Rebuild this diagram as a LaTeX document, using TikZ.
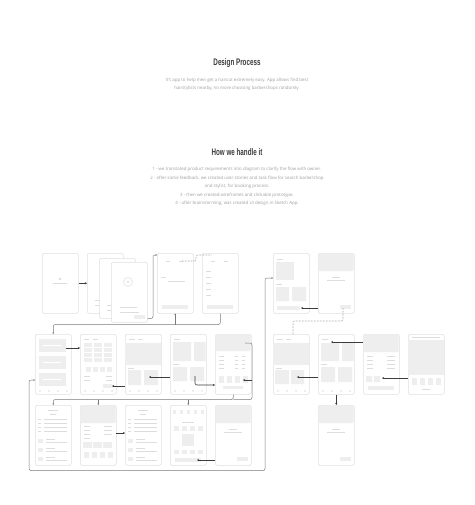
\documentclass[tikz,border=0pt]{standalone}
\usepackage{fontspec}
\setmainfont{Open Sans}
\newfontfamily\headfont[FakeStretch=0.66]{Liberation Sans}
\usetikzlibrary{calc,arrows.meta}
\definecolor{scrline}{HTML}{E0E0E0}
\definecolor{blockc}{HTML}{EEEEEE}
\definecolor{textc}{HTML}{DDDDDD}
\definecolor{linkc}{HTML}{7A7A7A}
\definecolor{darkc}{HTML}{3C3C3C}
\definecolor{bodyc}{HTML}{A0A0A0}

\begin{document}
\begin{tikzpicture}[x=1pt,y=-1pt]
\tikzset{
  scr/.style={draw=scrline, fill=white, line width=0.5pt, rounded corners=1.5pt,
    minimum width=36pt, minimum height=60pt, inner sep=0pt, anchor=north west},
  blk/.style={fill=blockc},
  tl/.style={draw=textc, line width=0.5pt},
  hdr/.style={fill=blockc, rounded corners=1.2pt},
  lnk/.style={draw=linkc, line width=0.5pt, rounded corners=2pt},
  lnkto/.style={lnk, -{Stealth[length=1.6pt,width=1.8pt]}},
  dotlnk/.style={lnk, densely dotted, line width=0.6pt},
  con/.style={draw=darkc, line width=0.6pt, rounded corners=2pt, -{Stealth[length=2pt,width=2pt]}},
  headline/.style={font=\headfont\bfseries\fontsize{9.5}{11}\selectfont, text=darkc},
  bodytext/.style={font=\fontsize{4.4}{8.6}\selectfont, text=bodyc, align=center}
}
\useasboundingbox (0,0) rectangle (474,505);
\fill[white] (0,0) rectangle (474,505);

\node[headline] (design) at (237,63) {Design Process};
\node[bodytext] (about) at (237,84.5) {It's app to help men get a haircut extremely easy. App allows find best\\hairstylists nearby, no more choosing barbershops randomly.};
\node[headline] (handle) at (237,152) {How we handle it};
\node[bodytext] (steps) at (237,186.5) {1 - we translated product requirements into diagram to clarify the flow with owner.\\2 - after some feedback, we created user stories and task flow for search barbershop\\and stylist, for booking process.\\3 - then we created wireframes and clickable prototype.\\4 - after brainstorming, was created UI design in Sketch App.};

% first row
\node[scr] (splash) at (42,253) {};
\begin{scope}[shift={(splash.north west)}]
\fill[textc] (18,26) circle (1.3);
\draw[tl] (11,30.5) -- (25,30.5);
\end{scope}
\node[scr] (tour1) at (87,253) {};
\begin{scope}[shift={(tour1.north west)}]
\draw[tl] (8,47) -- (13,47) (8,52) -- (12,52);
\end{scope}
\node[scr] (tour2) at (99,258) {};
\begin{scope}[shift={(tour2.north west)}]
\draw[tl] (8,47) -- (13,47) (8,52) -- (12,52);
\end{scope}
\node[scr] (tour3) at (111,262) {};
\begin{scope}[shift={(tour3.north west)}]
\draw[blockc, line width=1.2pt] (17,20) circle (4.5);
\fill[textc] (17,20) circle (1.2);
\draw[tl] (9,45) -- (26,45) (9,50) -- (28,50);
\fill[blk] (23,53) rectangle (34,57);
\end{scope}
\node[scr] (signin) at (157,253) {};
\begin{scope}[shift={(signin.north west)}]
\draw[tl] (9,8) -- (13,8) (22,8) -- (26,8);
\draw[tl] (4,24) -- (9,24) (11,28) -- (28,28);
\fill[blk] (5,52) rectangle (31,56);
\end{scope}
\node[scr] (signup) at (202,253) {};
\begin{scope}[shift={(signup.north west)}]
\draw[tl] (9,8) -- (13,8) (22,8) -- (26,8);
\foreach \r in {18,24,30,36,42} \draw[tl] (4,\r) -- (9,\r);
\fill[blk] (5,52) rectangle (31,56);
\end{scope}
\node[scr] (feed) at (273,253) {};
\begin{scope}[shift={(feed.north west)}]
\draw[tl] (4,6) -- (10,6);
\fill[blk] (3,9) rectangle (21,27);
\draw[tl] (3,31) -- (9,31);
\fill[blk] (3,34) rectangle (16,48) (19,34) rectangle (33,48);
\fill[blk] (4,53) rectangle (27,57);
\end{scope}
\node[scr] (welcome) at (318,253) {};
\begin{scope}[shift={(welcome.north west)}]
\fill[hdr] (0.3,0.3) rectangle (35.7,18);
\draw[tl] (14,24) -- (22,24) (9,27) -- (27,27);
\fill[blk] (22,52) rectangle (33,56);
\end{scope}

% second row
\node[scr] (home) at (35,334) {};
\begin{scope}[shift={(home.north west)}]
\foreach \t in {5,22,39} {
  \fill[blk] (4,\t) rectangle (31,\t+13);
  \draw[white, line width=0.6pt] (8,\t+6.5) -- (26,\t+6.5);
}
\foreach \i in {5,14,23,32} \fill[textc] (\i,57) circle (0.8);
\end{scope}
\node[scr] (catalog) at (80,334) {};
\begin{scope}[shift={(catalog.north west)}]
\draw[tl] (4,5) -- (9,5) (13,5) -- (18,5);
\foreach \r in {9,14,19,24} \foreach \c in {4,14,24} \fill[blk] (\c,\r) rectangle (\c+8,\r+3.5);
\foreach \c in {6,13,20,27} \fill[blk] (\c,33) rectangle (\c+5,38);
\draw[tl] (4,42) -- (10,42) (26,42) -- (32,42) (4,46) -- (10,46) (26,46) -- (32,46);
\fill[blk] (23,50) rectangle (32,54);
\foreach \i in {5,14,23,32} \fill[textc] (\i,57) circle (0.8);
\end{scope}
\node[scr] (salon) at (125,334) {};
\begin{scope}[shift={(salon.north west)}]
\draw[tl] (4,5) -- (10,5) (13,5) -- (18,5);
\fill[blk] (0.3,9) rectangle (35.7,31);
\draw[tl] (3,34) -- (9,34);
\fill[blk] (3,36) rectangle (16,51) (19,36) rectangle (33,51);
\foreach \i in {5,14,23,32} \fill[textc] (\i,57) circle (0.8);
\end{scope}
\node[scr] (stylists) at (170,334) {};
\begin{scope}[shift={(stylists.north west)}]
\draw[tl] (4,5) -- (10,5);
\fill[blk] (3,8) rectangle (21,27) (24,8) rectangle (35.7,27);
\draw[tl] (3,30) -- (9,30);
\fill[blk] (3,33) rectangle (17,47) (20,33) rectangle (34,47);
\foreach \i in {5,14,23,32} \fill[textc] (\i,57) circle (0.8);
\end{scope}
\node[scr] (booking) at (215,334) {};
\begin{scope}[shift={(booking.north west)}]
\fill[hdr] (0.3,0.3) rectangle (35.7,17);
\foreach \r in {22,26,30,34} \draw[tl] (4,\r) -- (9,\r) (20,\r) -- (23,\r) (27,\r) -- (30,\r);
\foreach \c in {4,12,20,28} \fill[blk] (\c,42) rectangle (\c+5,49);
\fill[blk] (8,52) rectangle (28,55);
\end{scope}
\node[scr] (shop) at (273,334) {};
\begin{scope}[shift={(shop.north west)}]
\draw[tl] (4,5) -- (10,5) (13,5) -- (18,5);
\fill[blk] (0.3,9) rectangle (35.7,31);
\draw[tl] (3,34) -- (9,34);
\fill[blk] (2,36) rectangle (16,50) (18,36) rectangle (31,50);
\foreach \i in {5,14,23,32} \fill[textc] (\i,57) circle (0.8);
\end{scope}
\node[scr] (barber) at (318,334) {};
\begin{scope}[shift={(barber.north west)}]
\draw[tl] (4,5) -- (10,5);
\fill[blk] (3,9) rectangle (21,27) (24,9) rectangle (35.7,27);
\draw[tl] (3,30) -- (9,30);
\fill[blk] (3,33) rectangle (17,48) (20,33) rectangle (34,48);
\foreach \i in {5,14,23,32} \fill[textc] (\i,57) circle (0.8);
\end{scope}
\node[scr] (slot) at (363,334) {};
\begin{scope}[shift={(slot.north west)}]
\fill[hdr] (0.3,0.3) rectangle (35.7,18);
\foreach \r in {22,26,30,34} \draw[tl] (4,\r) -- (10,\r) (24,\r) -- (32,\r);
\fill[blk] (3,42) rectangle (9,48) (11,42) rectangle (17,48);
\fill[blk] (5,52) rectangle (31,56);
\end{scope}
\node[scr] (gallery) at (408,334) {};
\begin{scope}[shift={(gallery.north west)}]
\draw[tl] (4,3) -- (32,3);
\fill[blk] (0.3,6) rectangle (35.7,41);
\foreach \c in {4,12,20,28} \fill[blk] (\c,44) rectangle (\c+5,51);
\draw[tl] (14,55) -- (22,55);
\end{scope}

% third row
\node[scr] (profile) at (35,405) {};
\begin{scope}[shift={(profile.north west)}]
\draw[tl] (13,5) -- (23,5) (15,9) -- (21,9);
\foreach \r in {14,18,22,26} \draw[tl] (3,\r) -- (6,\r) (9,\r) -- (32,\r);
\foreach \r in {34,43,52} {
  \fill[blk] (3,\r) rectangle (8,\r+4);
  \draw[tl] (11,\r) -- (20,\r) (11,\r+3.5) -- (32,\r+3.5);
}
\end{scope}
\node[scr] (order) at (80,405) {};
\begin{scope}[shift={(order.north west)}]
\fill[hdr] (0.3,0.3) rectangle (35.7,18);
\foreach \r in {21,25,29} \draw[tl] (4,\r) -- (10,\r) (24,\r) -- (32,\r);
\draw[tl] (4,33) -- (10,33);
\foreach \c in {3,13,23} \fill[blk] (\c,37) rectangle (\c+9,43);
\foreach \c in {4,12,20,28} \fill[blk] (\c,47) rectangle (\c+5,53);
\end{scope}
\node[scr] (review) at (125,405) {};
\begin{scope}[shift={(review.north west)}]
\draw[tl] (13,5) -- (23,5) (15,9) -- (21,9);
\foreach \r in {14,18,22,26} \draw[tl] (3,\r) -- (6,\r) (9,\r) -- (32,\r);
\foreach \r in {34,43,52} {
  \fill[blk] (3,\r) rectangle (8,\r+4);
  \draw[tl] (11,\r) -- (20,\r) (11,\r+3.5) -- (32,\r+3.5);
}
\end{scope}
\node[scr] (agenda) at (170,405) {};
\begin{scope}[shift={(agenda.north west)}]
\foreach \c in {3,10,17,24,31} \fill[blk] (\c,5) rectangle (\c+3,9);
\draw[tl] (12,17) -- (24,17);
\foreach \c in {4,12,20,28} \fill[blk] (\c,21) rectangle (\c+5,26);
\fill[blk] (12,29) rectangle (24,41);
\foreach \c in {4,12,20,28} \fill[blk] (\c,45) rectangle (\c+5,49);
\fill[blk] (5,53) rectangle (31,57);
\end{scope}
\node[scr] (success) at (215,405) {};
\begin{scope}[shift={(success.north west)}]
\fill[hdr] (0.3,0.3) rectangle (35.7,18);
\draw[tl] (14,24) -- (22,24) (9,27) -- (27,27);
\fill[blk] (22,52) rectangle (33,56);
\end{scope}
\node[scr] (thanks) at (318,405) {};
\begin{scope}[shift={(thanks.north west)}]
\fill[hdr] (0.3,0.3) rectangle (35.7,18);
\draw[tl] (14,24) -- (22,24) (9,27) -- (27,27);
\fill[blk] (22,52) rectangle (33,56);
\end{scope}

% links
\draw[con] (splash.east) -- (tour1.west);
\draw[lnkto] ($(tour3.south east)+(0,-4)$) -| ($(signin.north west)+(-4,2)$) -- ($(signin.north west)+(0,2)$);
\draw[dotlnk] ($(signin.north west)+(25,8)$) -- ++(14,0) |- ($(signup.north west)+(10,2)$);
\coordinate (j1) at ($(signin.south)+(0,11)$);
\draw[lnk] (signup.south) |- (j1);
\draw[lnkto] (j1) -- (signin.south);
\draw[lnkto] (j1) -| (home.north);
\draw[con] ($(home.north west)+(31,14)$) -- ($(catalog.north west)+(0,14)$);
\draw[con] ($(salon.north west)+(0,52)$) -- ($(catalog.north west)+(32,52)$);
\draw[con] ($(stylists.north west)+(0,43)$) -- ($(salon.north west)+(24,43)$);
\draw[con] ($(stylists.north west)+(25,42)$) |- ($(booking.north west)+(0,51)$);
\coordinate (j2) at ($(booking.south)+(0,5)$);
\draw[lnk] ($(booking.north west)+(30,9)$) -- ++(7,0) |- (j2);
\draw[con] ($(booking.north west)+(37,46)$) -- ($(booking.north west)+(28,46)$);
\draw[lnkto] (booking.south) -- (j2) -| (profile.north);
\draw[lnkto] (order.north |- j2) -- (order.north);
\draw[lnkto] (agenda.north |- j2) -- (agenda.north);
\draw[con] ($(order.north west)+(36,28)$) -- ($(review.north west)+(0,28)$);
\draw[con] ($(success.north west)+(0,55)$) -- ($(agenda.north west)+(27,55)$);
\coordinate (j3) at ($(profile.south west)+(2,5)$);
\draw[lnkto] (j3) -| ($(home.north west)+(-6,46)$) -- ($(home.north west)+(0,46)$);
\draw[lnkto] (j3) -| ($(feed.north west)+(-8,25)$) -- ($(feed.north west)+(0,25)$);
\draw[con] ($(welcome.north west)+(0,55)$) -- ($(feed.north west)+(28,55)$);
\draw[dotlnk] ($(welcome.north west)+(25,55)$) |- ($(shop.north west)+(20,-13)$) -- ($(shop.north west)+(20,0)$);
\draw[con] ($(barber.north west)+(0,43)$) -- ($(shop.north west)+(24,43)$);
\draw[con] ($(slot.north west)+(0,8)$) -- ($(barber.north west)+(13,8)$);
\draw[con] ($(gallery.north west)+(0,44)$) -- ($(slot.north west)+(19,44)$);
\draw[con] (barber.south) -- (thanks.north);
\end{tikzpicture}
\end{document}
